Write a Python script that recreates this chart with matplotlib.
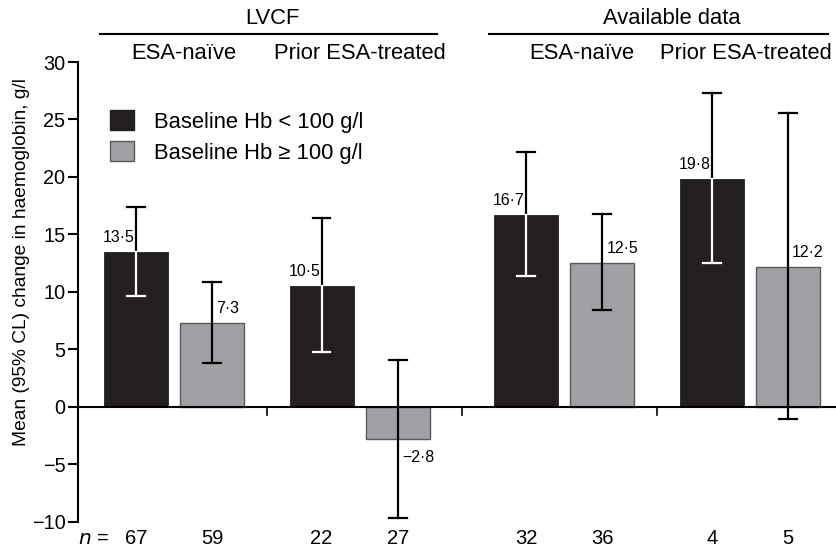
import numpy as np
import matplotlib
matplotlib.use("Agg")
import matplotlib.pyplot as plt

plt.rcParams['font.family'] = ['Liberation Sans', 'DejaVu Sans']

# data
subgroups = ["ESA-naïve", "Prior ESA-treated", "ESA-naïve", "Prior ESA-treated"]
low_mean = [13.5, 10.5, 16.7, 19.8]        # baseline Hb < 100 g/l
low_lo = [9.6, 4.8, 11.4, 12.5]
low_hi = [17.4, 16.4, 22.2, 27.3]
high_mean = [7.3, -2.8, 12.5, 12.2]        # baseline Hb >= 100 g/l
high_lo = [3.8, -9.7, 8.4, -1.1]
high_hi = [10.9, 4.1, 16.8, 25.6]
n_low = [67, 22, 32, 4]
n_high = [59, 27, 36, 5]

dark = '#231f20'
grey = '#a0a1a4'

fig = plt.figure(figsize=(8.37, 5.49), dpi=100)
ax = fig.add_axes([78/837, 1 - 521.7/549, 1 - 78/837, (521.7 - 62)/549])

gx = np.array([1.5, 4.4, 7.6, 10.5])
off = 0.595
w = 1.0
xl = gx - off
xh = gx + off

ax.bar(xl, low_mean, w, color=dark, edgecolor=dark, linewidth=0.6, zorder=2)
ax.bar(xh, high_mean, w, color=grey, edgecolor='#5a5a5c', linewidth=1.0, zorder=2)

cap = 0.14
lw = 1.6
# dark bars: white part inside the bar, black above
for x, m, lo, hi in zip(xl, low_mean, low_lo, low_hi):
    ax.plot([x, x], [m, hi], color='black', lw=lw, zorder=3)
    ax.plot([x - cap, x + cap], [hi, hi], color='black', lw=lw, zorder=3)
    ax.plot([x, x], [lo, m], color='white', lw=lw, zorder=3)
    ax.plot([x - cap, x + cap], [lo, lo], color='white', lw=lw, zorder=3)
    ax.annotate(f"{m:.1f}".replace('.', '·'), (x, m), xytext=(-1, 5),
                textcoords='offset points', ha='right', va='bottom', fontsize=11.4)
for x, m, lo, hi in zip(xh, high_mean, high_lo, high_hi):
    ax.plot([x, x], [lo, hi], color='black', lw=lw, zorder=3)
    ax.plot([x - cap, x + cap], [hi, hi], color='black', lw=lw, zorder=3)
    ax.plot([x - cap, x + cap], [lo, lo], color='black', lw=lw, zorder=3)
    lab = f"{m:.1f}".replace('.', '·').replace('-', '−')
    if m >= 0:
        ax.annotate(lab, (x, m), xytext=(3, 5), textcoords='offset points',
                    ha='left', va='bottom', fontsize=11.4)
    else:
        ax.annotate(lab, (x, m), xytext=(3, -8), textcoords='offset points',
                    ha='left', va='top', fontsize=11.4)

ax.set_xlim(0, 11.86)
ax.set_ylim(-10, 30)
ax.set_yticks(range(-10, 31, 5))
ax.set_yticklabels([str(t).replace('-', '−') for t in range(-10, 31, 5)])
ax.tick_params(axis='y', length=7, width=1.5, labelsize=14.3, pad=2)
ax.set_xticks([])
for s in ['top', 'right', 'bottom']:
    ax.spines[s].set_visible(False)
ax.spines['left'].set_linewidth(1.5)
ax.axhline(0, color='black', lw=1.5, zorder=4)
for sep in (gx[:-1] + gx[1:]) / 2:
    ax.plot([sep, sep], [0, -0.75], color='black', lw=1.2, clip_on=False)

ax.set_ylabel("Mean (95% CL) change in haemoglobin, g/l", fontsize=13.8)
ax.yaxis.set_label_coords(-0.063, 0.565)

# n row
ax.text(0.0, -11.5, "$n$ =", ha='left', va='center', fontsize=14.5)
for x, n in zip(xl, n_low):
    ax.text(x, -11.5, str(n), ha='center', va='center', fontsize=14.5)
for x, n in zip(xh, n_high):
    ax.text(x, -11.5, str(n), ha='center', va='center', fontsize=14.5)

# headers
sub_x = [gx[0] + 0.15, gx[1] + 0.0, gx[2] + 0.27, gx[3] - 0.07]
for x, s in zip(sub_x, subgroups):
    ax.text(x, 30.75, s, ha='center', va='center', fontsize=15.8, clip_on=False)
ax.text(3.04, 33.8, "LVCF", ha='center', va='center', fontsize=15.8)
ax.text(9.28, 33.8, "Available data", ha='center', va='center', fontsize=15.8)
ax.plot([0.34, 5.61], [32.4, 32.4], color='black', lw=1.5, clip_on=False)
ax.plot([6.42, 11.72], [32.4, 32.4], color='black', lw=1.5, clip_on=False)

# legend
h1 = plt.Rectangle((0, 0), 1, 1, facecolor=dark, edgecolor=dark)
h2 = plt.Rectangle((0, 0), 1, 1, facecolor=grey, edgecolor='#5a5a5c')
ax.legend([h1, h2], ["Baseline Hb < 100 g/l", "Baseline Hb ≥ 100 g/l"],
          loc='upper left', bbox_to_anchor=(0.042, 0.895), frameon=False,
          borderpad=0, borderaxespad=0,
          fontsize=15.8, handlelength=1.1, handleheight=1.0,
          handletextpad=0.9, labelspacing=0.4)

fig.savefig("out.png", dpi=100)
